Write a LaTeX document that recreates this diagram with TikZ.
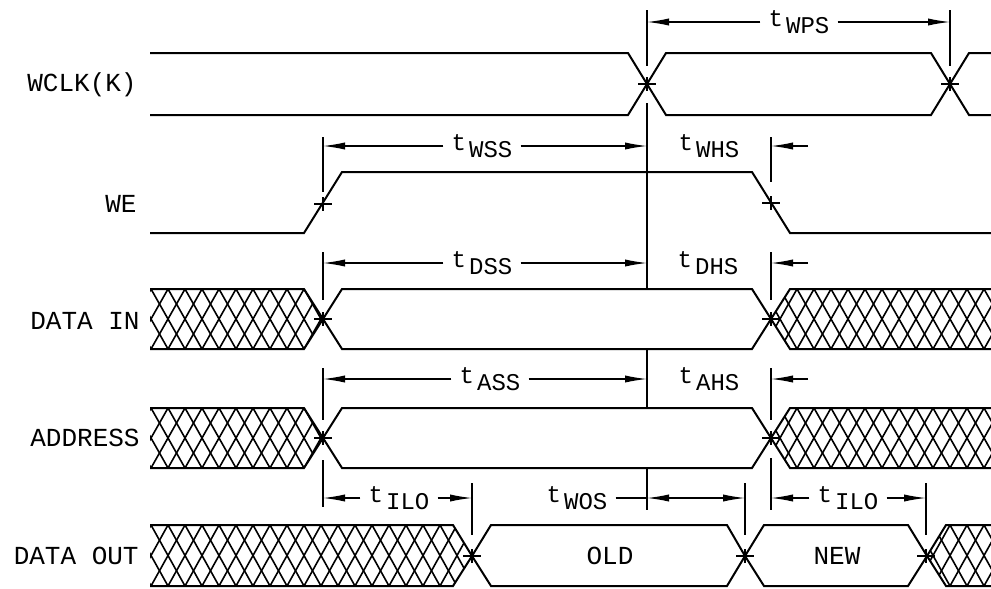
\documentclass[tikz,border=0pt]{standalone}
\usepackage{fontspec}
\setmonofont{Liberation Mono}
\usetikzlibrary{arrows.meta}

\newcommand{\sigfont}{\ttfamily\fontsize{13}{14}\selectfont}
\newcommand{\dimfont}{\ttfamily\fontsize{12}{13}\selectfont}
\newcommand{\tsub}[1]{t\kern1.5pt\raisebox{-3.5pt}{#1}}

% cross-hatched (don't care) zone: clip path, top y, bottom y
\newcommand{\hatchzone}[3]{%
  \begin{scope}
    \clip #1;
    \foreach \hx in {100,117,...,1030}
      \draw[hatch] (\hx,#2) -- ++(34,{#3-#2}) (\hx,#2) -- ++(-34,{#3-#2});
  \end{scope}}

\begin{document}
\begin{tikzpicture}[x=0.5pt, y=-0.5pt,
    wave/.style={line width=1pt, line join=miter},
    hatch/.style={line width=0.8pt},
    dim/.style={line width=0.6pt},
    tip/.style={-{Latex[length=11pt,width=3.6pt]}},
    dimarrow/.style={dim, tip},
    tickline/.style={line width=0.9pt},
    lbl/.style={font=\sigfont, anchor=east, inner sep=0pt},
    tlbl/.style={font=\dimfont, inner sep=4pt},
    xmark/.pic={\draw[tickline] (-9,0) -- (9,0) (0,-7) -- (0,7);}]
    \useasboundingbox (0,0) rectangle (991,589);

    % edge positions
    \coordinate (k1) at (647,0);
    \coordinate (k2) at (950,0);
    \coordinate (s1) at (323,0);
    \coordinate (s2) at (771,0);
    \coordinate (o1) at (472,0);
    \coordinate (o2) at (745,0);
    \coordinate (o3) at (926,0);

    % signal names
    \node[lbl] (lwclk) at (137,85) {WCLK(K)};
    \node[lbl] (lwe) at (137,204) {WE};
    \node[lbl] (ldin) at (140,321) {DATA IN};
    \node[lbl] (laddr) at (140,438) {ADDRESS};
    \node[lbl] (ldout) at (139,556) {DATA OUT};

    % WCLK(K)
    \draw[wave] (150,53) -- (628,53) -- (666,115) -- (931,115) -- (969,53) -- (991,53);
    \draw[wave] (150,115) -- (628,115) -- (666,53) -- (931,53) -- (969,115) -- (991,115);

    % WE
    \draw[wave] (150,233) -- (304,233) -- (342,172) -- (752,172) -- (790,233) -- (991,233);

    % DATA IN and ADDRESS
    \foreach \ya/\yb/\ym in {289/349/319, 408/468/438} {
      \hatchzone{(150,\ya) -- (304,\ya) -- (323,\ym) -- (304,\yb) -- (150,\yb) -- cycle}{\ya}{\yb}
      \draw[wave] (150,\ya) -- (304,\ya) -- (323,\ym) -- (304,\yb) -- (150,\yb);
      \draw[wave] (323,\ym) -- (342,\ya) -- (752,\ya) -- (771,\ym) -- (752,\yb) -- (342,\yb) -- cycle;
      \hatchzone{(771,\ym) -- (790,\ya) -- (991,\ya) -- (991,\yb) -- (790,\yb) -- cycle}{\ya}{\yb}
      \draw[wave] (991,\ya) -- (790,\ya) -- (771,\ym) -- (790,\yb) -- (991,\yb);
    }

    % DATA OUT
    \hatchzone{(150,525) -- (453,525) -- (472,556) -- (453,586) -- (150,586) -- cycle}{525}{586}
    \draw[wave] (150,525) -- (453,525) -- (472,556) -- (453,586) -- (150,586);
    \draw[wave] (472,556) -- (491,525) -- (727,525) -- (745,556) -- (727,586) -- (491,586) -- cycle;
    \draw[wave] (745,556) -- (764,525) -- (908,525) -- (927,556) -- (908,586) -- (764,586) -- cycle;
    \hatchzone{(927,556) -- (946,525) -- (991,525) -- (991,586) -- (946,586) -- cycle}{525}{586}
    \draw[wave] (991,525) -- (946,525) -- (927,556) -- (946,586) -- (991,586);
    \node[font=\sigfont] (old) at (610,556) {OLD};
    \node[font=\sigfont] (new) at (837,556) {NEW};

    % reference lines
    \foreach \x/\ya/\yb in {647/10/66, 647/103/289, 647/349/408, 647/468/510, 950/10/66,
        323/137/192, 323/252/300, 323/368/420, 323/460/507,
        771/137/182, 771/252/300, 771/368/420, 771/458/510,
        472/483/535, 745/483/535, 926/483/535}
      \draw[tickline] (\x,\ya) -- (\x,\yb);

    % crossing marks
    \foreach \p in {(647,84), (950,84), (323,204), (771,203), (323,319), (771,319),
        (323,438), (771,438), (472,556), (745,556), (926,556)}
      \pic at \p {xmark};

    % timing parameters
    \node[tlbl] (twps) at (799,22) {\tsub{WPS}};
    \draw[dimarrow] (twps.west) -- (twps.west -| k1);
    \draw[dimarrow] (twps.east) -- (twps.east -| k2);

    \node[tlbl] (twss) at (482,146) {\tsub{WSS}};
    \draw[dimarrow] (twss.west) -- (twss.west -| s1);
    \draw[dimarrow] (twss.east) -- (twss.east -| k1);
    \node[tlbl] (twhs) at (709,146) {\tsub{WHS}};
    \draw[dimarrow] (twhs.east -| s2) ++(37,0) -- (twhs.east -| s2);

    \node[tlbl] (tdss) at (482,263) {\tsub{DSS}};
    \draw[dimarrow] (tdss.west) -- (tdss.west -| s1);
    \draw[dimarrow] (tdss.east) -- (tdss.east -| k1);
    \node[tlbl] (tdhs) at (708,263) {\tsub{DHS}};
    \draw[dimarrow] (tdhs.east -| s2) ++(37,0) -- (tdhs.east -| s2);

    \node[tlbl] (tass) at (490,379) {\tsub{ASS}};
    \draw[dimarrow] (tass.west) -- (tass.west -| s1);
    \draw[dimarrow] (tass.east) -- (tass.east -| k1);
    \node[tlbl] (tahs) at (709,379) {\tsub{AHS}};
    \draw[dimarrow] (tahs.east -| s2) ++(37,0) -- (tahs.east -| s2);

    \node[tlbl] (tilo1) at (399,498) {\tsub{ILO}};
    \draw[dimarrow] (tilo1.west) -- (tilo1.west -| s1);
    \draw[dimarrow] (tilo1.east) -- (tilo1.east -| o1);

    \node[tlbl] (twos) at (577,498) {\tsub{WOS}};
    \draw[dim] (twos.east) -- (twos.east -| k1);
    \draw[dim, {Latex[length=11pt,width=3.6pt]}-{Latex[length=11pt,width=3.6pt]}] (twos.east -| k1) -- (twos.east -| o2);

    \node[tlbl] (tilo2) at (848,498) {\tsub{ILO}};
    \draw[dimarrow] (tilo2.west) -- (tilo2.west -| s2);
    \draw[dimarrow] (tilo2.east) -- (tilo2.east -| o3);
\end{tikzpicture}
\end{document}
